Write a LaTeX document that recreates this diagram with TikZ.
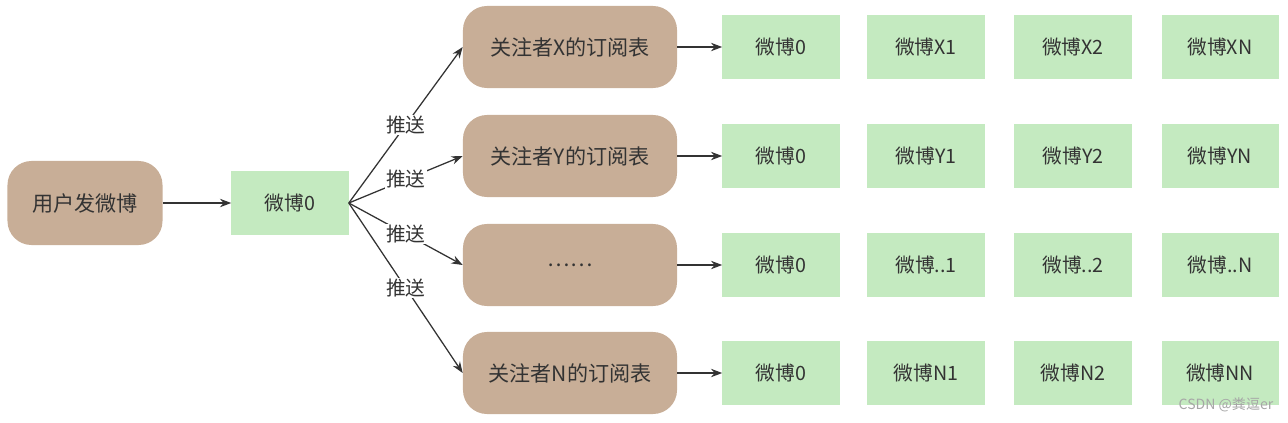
\documentclass[tikz,border=0pt]{standalone}
\usepackage{fontspec}
\setmainfont{Noto Sans CJK SC}
\usetikzlibrary{arrows.meta}

\definecolor{feedbrown}{RGB}{200,174,151}
\definecolor{postgreen}{RGB}{196,234,192}
\definecolor{inkgray}{RGB}{51,51,51}

\tikzset{
  feed/.style={fill=feedbrown, rounded corners=0.6cm, minimum width=5.35cm, minimum height=2.05cm, text=inkgray, font=\fontsize{15}{17}\selectfont},
  post/.style={fill=postgreen, minimum width=2.925cm, minimum height=1.575cm, text=inkgray, font=\fontsize{14}{16}\selectfont},
  link/.style={draw=inkgray, line width=0.9pt, -{Stealth[length=8pt,width=6pt]}},
  push/.style={midway, fill=white, inner sep=1pt, text=inkgray, font=\fontsize{14}{16}\selectfont}
}

\begin{document}
\begin{tikzpicture}[x=0.025cm,y=-0.025cm]

\useasboundingbox (0,0) rectangle (1288,422);

\node[feed, minimum width=3.875cm, minimum height=2.1cm] (user) at (85,203) {用户发微博};
\node[post] (w0) at (290,203) {微博0};
\draw[link] (user) -- (w0);

\node[feed] (fx) at (570,47) {关注者X的订阅表};
\node[feed] (fy) at (570,156) {关注者Y的订阅表};
\node[feed] (fd) at (570,265) {……};
\node[feed] (fn) at (570,373) {关注者N的订阅表};

\draw[link] (w0.east) -- (fx.west) node[push] {推送};
\draw[link] (w0.east) -- (fy.west) node[push] {推送};
\draw[link] (w0.east) -- (fd.west) node[push] {推送};
\draw[link] (w0.east) -- (fn.west) node[push] {推送};

% row X
\node[post] (x0) at (781,47) {微博0};
\node[post] (x1) at (926,47) {微博X1};
\node[post] (x2) at (1073,47) {微博X2};
\node[post] (xn) at (1220,47) {微博XN};
\draw[link] (fx) -- (x0);

% row Y
\node[post] (y0) at (781,156) {微博0};
\node[post] (y1) at (926,156) {微博Y1};
\node[post] (y2) at (1073,156) {微博Y2};
\node[post] (yn) at (1220,156) {微博YN};
\draw[link] (fy) -- (y0);

% row ...
\node[post] (d0) at (781,265) {微博0};
\node[post] (d1) at (926,265) {微博..1};
\node[post] (d2) at (1073,265) {微博..2};
\node[post] (dn) at (1220,265) {微博..N};
\draw[link] (fd) -- (d0);

% row N
\node[post] (n0) at (781,373) {微博0};
\node[post] (n1) at (926,373) {微博N1};
\node[post] (n2) at (1073,373) {微博N2};
\node[post] (nn) at (1220,373) {微博NN};
\draw[link] (fn) -- (n0);

\node[text=gray!70, font=\fontsize{10}{12}\selectfont] (mark) at (1226,405) {CSDN @粪逗er};

\end{tikzpicture}
\end{document}
